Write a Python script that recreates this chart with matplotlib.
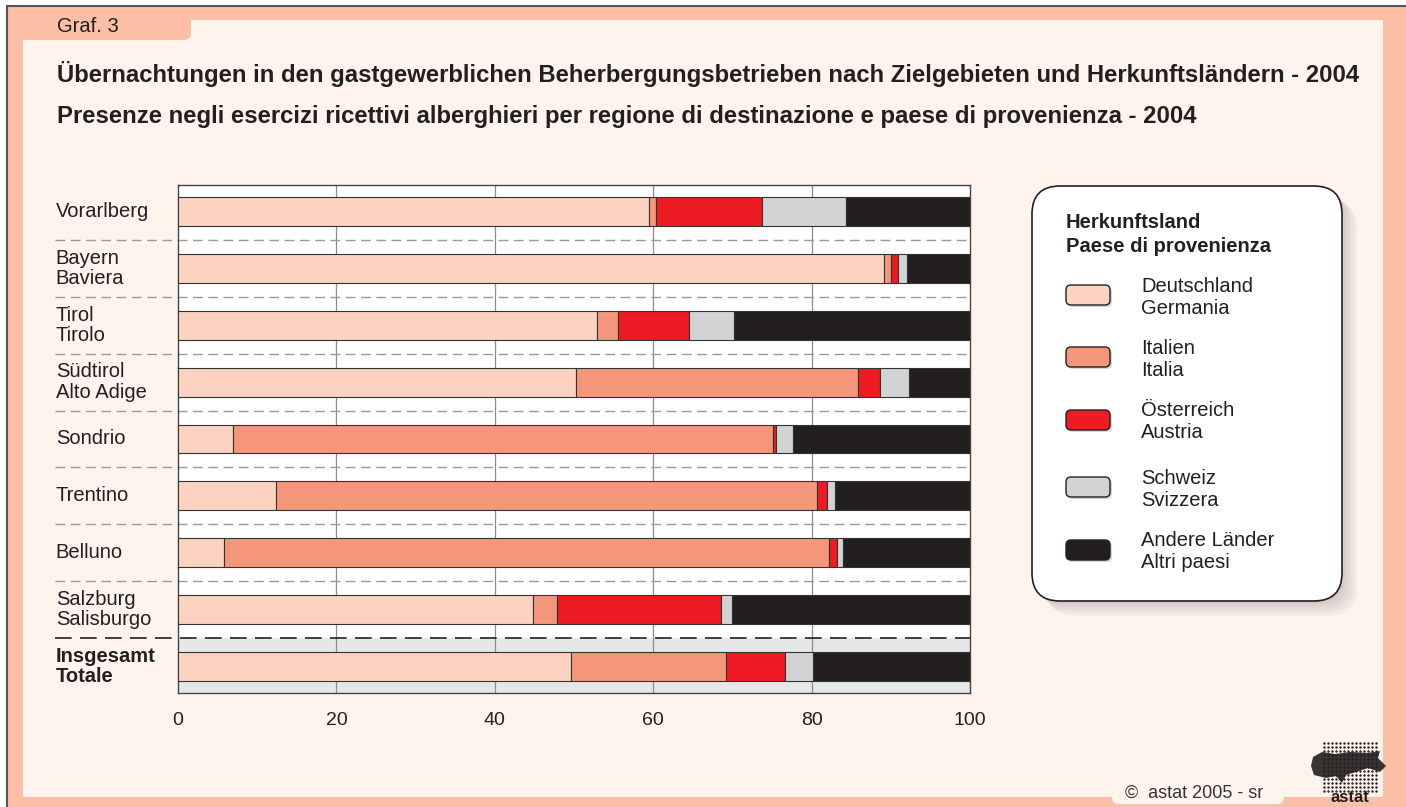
import numpy as np
import matplotlib
matplotlib.use("Agg")
import matplotlib.pyplot as plt
from matplotlib.patches import FancyBboxPatch, Rectangle, Polygon
import matplotlib.transforms as mtransforms

plt.rcParams['font.family'] = ['Liberation Sans', 'DejaVu Sans']

# data (percent shares)
regions = ["Vorarlberg", "Bayern\nBaviera", "Tirol\nTirolo", "Südtirol\nAlto Adige",
           "Sondrio", "Trentino", "Belluno", "Salzburg\nSalisburgo", "Insgesamt\nTotale"]
deutschland = [59.5, 89.2, 52.9, 50.3, 6.9, 12.4, 5.8, 44.8, 49.6]
italien = [0.9, 0.8, 2.7, 35.6, 68.2, 68.3, 76.4, 3.1, 19.6]
oesterreich = [13.3, 0.9, 8.9, 2.7, 0.4, 1.3, 1.0, 20.7, 7.4]
schweiz = [10.6, 1.2, 5.7, 3.7, 2.2, 0.9, 0.8, 1.4, 3.6]
andere = [15.7, 7.9, 29.8, 7.7, 22.3, 17.1, 16.0, 30.0, 19.8]
series_labels = ["Deutschland\nGermania", "Italien\nItalia", "Österreich\nAustria",
                 "Schweiz\nSvizzera", "Andere Länder\nAltri paesi"]
colors = ["#FCD3C1", "#F4967A", "#ED1C24", "#D1D3D4", "#231F20"]
xticks = [0, 20, 40, 60, 80, 100]

W, H = 1406, 807
fig = plt.figure(figsize=(W / 100, H / 100), dpi=100)
fig.patch.set_facecolor("white")

# background drawing layer in pixel coordinates
bg = fig.add_axes([0, 0, 1, 1], zorder=0)
bg.set_xlim(0, W)
bg.set_ylim(H, 0)
bg.axis("off")

salmon = "#FBBFA6"
cream = "#FFF3EE"
bg.add_patch(Rectangle((7, 6), W, H, facecolor=salmon, edgecolor="#555555", lw=1.5))
bg.add_patch(Rectangle((23, 20), 1360, 777, facecolor=cream, edgecolor="none"))
bg.add_patch(FancyBboxPatch((23, 10), 168, 30, boxstyle="round,pad=0,rounding_size=7",
                            facecolor=salmon, edgecolor="none"))
bg.add_patch(Rectangle((23, 10), 40, 30, facecolor=salmon, edgecolor="none"))
bg.add_patch(Rectangle((23, 10), 168, 12, facecolor=salmon, edgecolor="none"))
bg.text(57, 27, "Graf. 3", fontsize=14.5, color="#231F20", va="center", ha="left")

# bottom copyright tab
bg.add_patch(FancyBboxPatch((1112, 780), 172, 24, boxstyle="round,pad=0,rounding_size=7",
                            facecolor=cream, edgecolor="none"))
bg.text(1125, 793, "©  astat 2005 - sr", fontsize=13, color="#333333", va="center")

# logo (dot grid + map blob + name)
blob = [(1313, 757), (1322, 752), (1335, 754), (1350, 752), (1368, 753), (1380, 751),
        (1378, 758), (1386, 766), (1380, 772), (1368, 768), (1356, 772), (1346, 775),
        (1342, 783), (1336, 776), (1326, 778), (1314, 775), (1311, 766)]
bg.add_patch(Polygon(blob, closed=True, facecolor="#231F20", edgecolor="none", alpha=0.9))
gx, gy = np.meshgrid(np.arange(1324, 1377, 4), np.arange(743, 793, 4))
bg.scatter(gx.ravel(), gy.ravel(), s=3, color="#231F20", lw=0, zorder=3)
bg.text(1350, 797, "astat", fontsize=12, fontweight="bold", ha="center", va="center",
        color="#231F20")

# titles
bg.text(57, 74, "Übernachtungen in den gastgewerblichen Beherbergungsbetrieben nach Zielgebieten und Herkunftsländern - 2004",
        fontsize=17.2, fontweight="bold", color="#231F20", va="center")
bg.text(57, 117, "Presenze negli esercizi ricettivi alberghieri per regione di destinazione e paese di provenienza - 2004",
        fontsize=17.2, fontweight="bold", color="#231F20", va="center")

# legend box
for k in range(5):
    off = 3 + 3 * k
    bg.add_patch(FancyBboxPatch((1032 + off, 186 + off), 310, 415,
                                boxstyle="round,pad=0,rounding_size=28",
                                facecolor="#555555", edgecolor="none", alpha=0.05))
bg.add_patch(FancyBboxPatch((1032, 186), 310, 415, boxstyle="round,pad=0,rounding_size=28",
                            facecolor="white", edgecolor="#231F20", lw=1.2))
bg.text(1066, 223, "Herkunftsland", fontsize=14.5, fontweight="bold", va="center", color="#231F20")
bg.text(1066, 246, "Paese di provenienza", fontsize=14.5, fontweight="bold", va="center", color="#231F20")
leg_y = [295, 357, 420, 487, 550]
for yc, lab, col in zip(leg_y, series_labels, colors):
    bg.add_patch(FancyBboxPatch((1068, yc - 8), 44, 20, boxstyle="round,pad=0,rounding_size=5",
                                facecolor="#999999", edgecolor="none", alpha=0.4))
    bg.add_patch(FancyBboxPatch((1066, yc - 10), 44, 20, boxstyle="round,pad=0,rounding_size=5",
                                facecolor=col, edgecolor="#231F20", lw=1))
    l1, l2 = lab.split("\n")
    bg.text(1141, yc - 9, l1, fontsize=14.5, va="center", color="#231F20")
    bg.text(1141, yc + 13, l2, fontsize=14.5, va="center", color="#231F20")

# chart
ax = fig.add_axes([178 / W, 1 - 693 / H, 792 / W, 508 / H], zorder=1)
ax.set_facecolor("white")
n = len(regions)
y = np.arange(n)
ax.set_xlim(0, 100)
ax.set_ylim(n - 0.53, -0.47)
ax.axhspan(n - 1.5, n - 0.47, color="#E6E7E8", zorder=0)
for t in xticks[1:-1]:
    ax.axvline(t, color="#8C8C8C", lw=0.9, zorder=1)

left = np.zeros(n)
for vals, col in zip([deutschland, italien, oesterreich, schweiz, andere], colors):
    ax.barh(y, vals, left=left, height=0.51, color=col, edgecolor="#333333", lw=0.8, zorder=3)
    left = left + np.array(vals)

trans = mtransforms.blended_transform_factory(ax.transAxes, ax.transData)
x0 = (55 - 178) / 792
for i in range(n - 2):
    ax.plot([x0, 1], [i + 0.5, i + 0.5], transform=trans, color="#9A9A9A", lw=1,
            dashes=(7, 4), clip_on=False, zorder=2)
ax.plot([x0, 1], [n - 1.5, n - 1.5], transform=trans, color="#231F20", lw=1.2,
        dashes=(10, 5), clip_on=False, zorder=2)

for i, lab in enumerate(regions):
    bold = i == n - 1
    ax.text(x0 + 0.001, i, lab, transform=trans, ha="left", va="center", fontsize=14.5,
            fontweight="bold" if bold else "normal", color="#231F20", linespacing=1.1)

ax.set_xticks(xticks)
ax.set_xticklabels([str(t) for t in xticks], fontsize=14, color="#231F20")
ax.set_yticks([])
ax.tick_params(axis="x", length=0, pad=14)
for s in ax.spines.values():
    s.set_color("#444444")
    s.set_linewidth(1)

fig.savefig("out.png", dpi=100, facecolor=fig.get_facecolor())
